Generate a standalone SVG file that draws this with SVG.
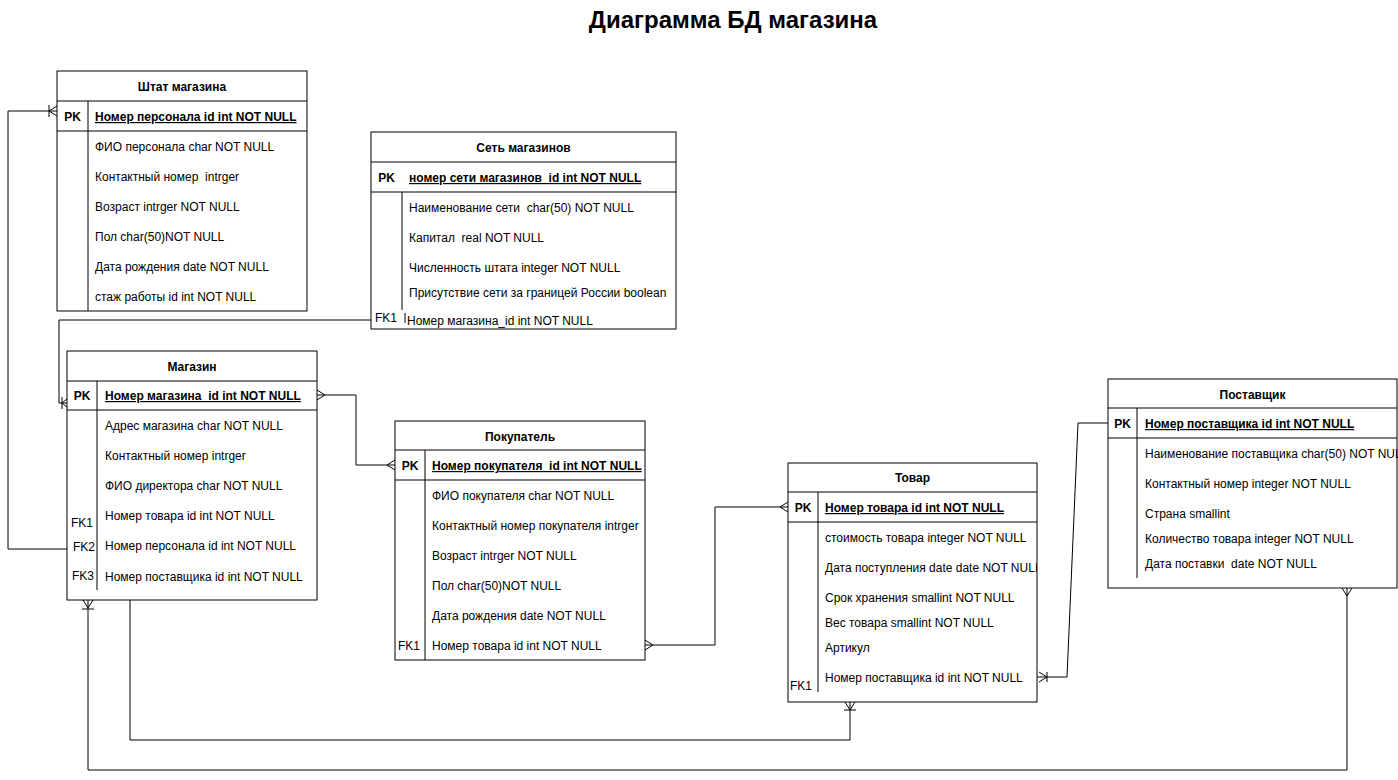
<svg xmlns="http://www.w3.org/2000/svg" width="1398" height="780" viewBox="0 0 1398 780">
<style>
text{font-family:"Liberation Sans",Arial,sans-serif;font-size:12px;fill:#000;white-space:pre}
.t{font-size:24px;font-weight:bold}
.h{font-weight:bold;text-anchor:middle}
.pk{font-weight:bold;text-decoration:underline}
.k{text-anchor:middle;font-weight:bold}
.box{fill:#fff;stroke:#000;stroke-width:1}
.ln{stroke:#000;stroke-width:1;fill:none}
.c{stroke:#000;stroke-width:1;fill:none}
</style>
<defs>
<clipPath id="clipTovar"><rect x="788" y="463" width="249" height="239"/></clipPath>
</defs>
<rect width="1398" height="780" fill="#fff"/>
<text class="t" x="733" y="28" text-anchor="middle">Диаграмма БД магазина</text>

<g id="connectors">
<path class="c" d="M67,549 H8 V111 H57"/>
<path class="c" d="M49,105 V117 M57,106 L49,111 L57,116"/>
<path class="c" d="M371,320 H59 V403 H67"/>
<path class="c" d="M62,397 V409 M68,398 L62,403 L68,408"/>
<path class="c" d="M317,395 H356 V465 H395"/>
<path class="c" d="M317,390 L325,395 L317,400"/>
<path class="c" d="M395,460 L387,465 L395,470"/>
<path class="c" d="M645,645 H715 V507 H788"/>
<path class="c" d="M645,640 L653,645 L645,650"/>
<path class="c" d="M788,502 L780,507 L788,512"/>
<path class="c" d="M1037,677 H1067 L1078,423 H1108"/>
<path class="c" d="M1039,672 L1047,677 L1039,682 M1047,672 V682"/>
<path class="c" d="M88,600 V770 H1347 V588"/>
<path class="c" d="M83,600 L88,608 L93,600 M82,609 H94"/>
<path class="c" d="M1342,588 L1347,596 L1352,588"/>
<path class="c" d="M130,600 V740 H850 V702"/>
<path class="c" d="M845,702 L850,710 L855,702 M844,710 H856"/>
</g>

<g id="shtat">
<rect class="box" x="57" y="71" width="250" height="240"/>
<path class="ln" d="M57,101 H307 M57,131 H307 M88,101 V311"/>
<text class="h" x="182" y="91">Штат магазина</text>
<text class="k" x="72.5" y="121">PK</text>
<text class="pk" x="95" y="121">Номер персонала id int NOT NULL</text>
<text x="95" y="151">ФИО персонала char NOT NULL</text>
<text x="95" y="181">Контактный номер  intrger</text>
<text x="95" y="211">Возраст intrger NOT NULL</text>
<text x="95" y="241">Пол char(50)NOT NULL</text>
<text x="95" y="271">Дата рождения date NOT NULL</text>
<text x="95" y="301">стаж работы id int NOT NULL</text>
</g>

<g id="set">
<rect class="box" x="371" y="132" width="305" height="197"/>
<path class="ln" d="M371,162 H676 M371,192 H676 M402,192 V310 M405,313 V323"/>
<text class="h" x="523.5" y="152">Сеть магазинов</text>
<text class="k" x="386.5" y="182">PK</text>
<text class="pk" x="409" y="182">номер сети магазинов_id int NOT NULL</text>
<text x="409" y="212">Наименование сети  char(50) NOT NULL</text>
<text x="409" y="242">Капитал  real NOT NULL</text>
<text x="409" y="272">Численность штата integer NOT NULL</text>
<text x="409" y="297">Присутствие сети за границей России boolean</text>
<text x="375" y="322">FK1</text>
<text x="407" y="325">Номер магазина_id int NOT NULL</text>
</g>

<g id="magazin">
<rect class="box" x="67" y="351" width="250" height="249"/>
<path class="ln" d="M67,381 H317 M67,410 H317 M97,381 V590"/>
<text class="h" x="192" y="371">Магазин</text>
<text class="k" x="82" y="400">PK</text>
<text class="pk" x="105" y="400">Номер магазина_id int NOT NULL</text>
<text x="105" y="430">Адрес магазина char NOT NULL</text>
<text x="105" y="460">Контактный номер intrger</text>
<text x="105" y="490">ФИО директора char NOT NULL</text>
<text x="71" y="527">FK1</text>
<text x="105" y="520">Номер товара id int NOT NULL</text>
<text x="73" y="551">FK2</text>
<text x="105" y="550">Номер персонала id int NOT NULL</text>
<text x="72" y="580">FK3</text>
<text x="105" y="581">Номер поставщика id int NOT NULL</text>
</g>

<g id="pokupatel">
<rect class="box" x="395" y="421" width="250" height="239"/>
<path class="ln" d="M395,450 H645 M395,480 H645 M425,450 V660"/>
<text class="h" x="520" y="441">Покупатель</text>
<text class="k" x="410" y="470">PK</text>
<text class="pk" x="432" y="470">Номер покупателя_id int NOT NULL</text>
<text x="432" y="500">ФИО покупателя char NOT NULL</text>
<text x="432" y="530">Контактный номер покупателя intrger</text>
<text x="432" y="560">Возраст intrger NOT NULL</text>
<text x="432" y="590">Пол char(50)NOT NULL</text>
<text x="432" y="620">Дата рождения date NOT NULL</text>
<text x="398" y="650">FK1</text>
<text x="432" y="650">Номер товара id int NOT NULL</text>
</g>

<g id="tovar">
<rect class="box" x="788" y="463" width="249" height="239"/>
<path class="ln" d="M788,492 H1037 M788,522 H1037 M818,492 V692"/>
<text class="h" x="912.5" y="482">Товар</text>
<text class="k" x="803" y="512">PK</text>
<g clip-path="url(#clipTovar)">
<text class="pk" x="825" y="512">Номер товара id int NOT NULL</text>
<text x="825" y="542">стоимость товара integer NOT NULL</text>
<text x="825" y="572">Дата поступления date date NOT NULL</text>
<text x="825" y="602">Срок хранения smallint NOT NULL</text>
<text x="825" y="627">Вес товара smallint NOT NULL</text>
<text x="825" y="652">Артикул</text>
<text x="825" y="682">Номер поставщика id int NOT NULL</text>
</g>
<text x="790" y="690">FK1</text>
</g>

<g id="postavshik">
<rect class="box" x="1108" y="379" width="289" height="209"/>
<path class="ln" d="M1108,408 H1397 M1108,438 H1397 M1137,408 V578"/>
<text class="h" x="1252.5" y="399">Поставщик</text>
<text class="k" x="1122.5" y="428">PK</text>
<text class="pk" x="1145" y="428">Номер поставщика id int NOT NULL</text>
<text x="1145" y="458">Наименование поставщика char(50) NOT NULL</text>
<text x="1145" y="488">Контактный номер integer NOT NULL</text>
<text x="1145" y="518">Страна smallint</text>
<text x="1145" y="543">Количество товара integer NOT NULL</text>
<text x="1145" y="568">Дата поставки  date NOT NULL</text>
</g>
</svg>
